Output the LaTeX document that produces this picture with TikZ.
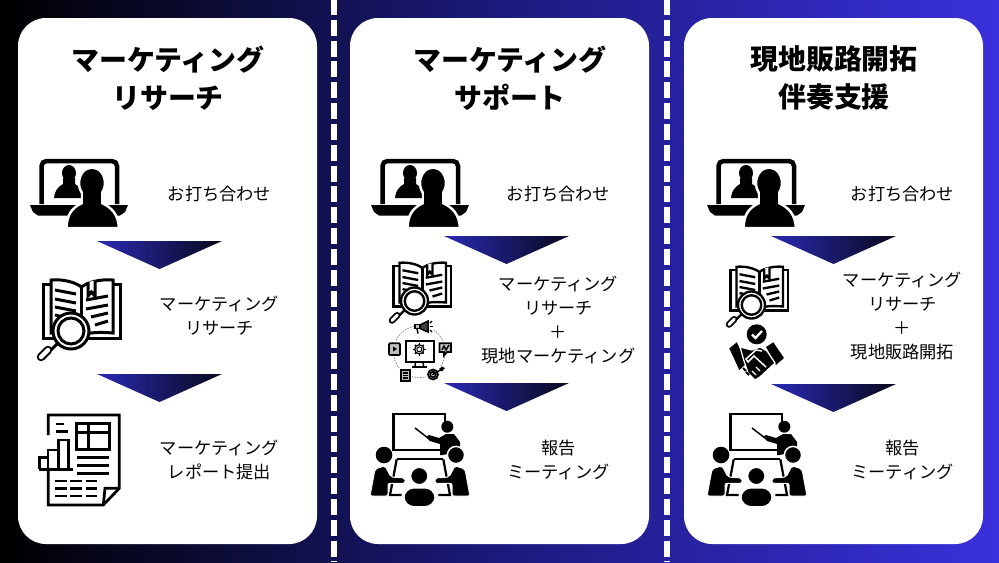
\documentclass[tikz,border=0pt]{standalone}
\usepackage{fontspec}
\setmainfont{Noto Sans CJK JP}
\definecolor{bgblue}{HTML}{3A30DC}
\definecolor{bgmid}{HTML}{1B1A7C}
\definecolor{arrowblue}{HTML}{2A2AB4}
\definecolor{arrowdark}{HTML}{08081C}

\tikzset{
  panel/.style={fill=white, rounded corners=5.6mm},
  divider/.style={white, line width=1.1mm, dash pattern=on 3.2mm off 0.967mm},
  arrowtri/.style={left color=arrowblue, right color=arrowdark},
  titletext/.style={align=center, inner sep=0pt, font=\fontsize{15.9}{21.6}\selectfont\bfseries},
  bodytext/.style={align=center, inner sep=0pt, font=\fontsize{9.8}{13.67}\selectfont},
  handleout/.style={line width=1.7mm, line cap=round},
  handlein/.style={white, line width=0.9mm, line cap=round},
  smallbook/.style={scale=0.75, line width=0.47mm, handleout/.style={line width=1.3mm, line cap=round}, handlein/.style={white, line width=0.6mm, line cap=round}},
  % laptop with two people
  laptop/.pic={
    \draw[black, line width=0.9mm, rounded corners=1mm] (41.5,204)--(41.5,161)--(117,161)--(117,204);
    \fill[black] (30,205)--(128,205)--(125,212)--(120,215.5)--(38,215.5)--(33,212)--cycle;
    \fill[black] (69,173) ellipse [x radius=7, y radius=8];
    \fill[black] (54,198) .. controls (55,190) and (58,187) .. (63,184)--(63,178)--(75,178)--(75,184) .. controls (80,187) and (83,190) .. (83,198)--cycle;
    \draw[white, fill=black, line width=0.5mm] (66.5,228) .. controls (67,214) and (72,208) .. (82,203)--(82,190)--(102,190)--(102,203) .. controls (112,208) and (118,214) .. (119,228)--cycle;
    \draw[white, fill=black, line width=0.5mm] (92,183) ellipse [x radius=13, y radius=15.5];
    \fill[black] (83,192) rectangle (101,206);
    \fill[white] (60,228.5) rectangle (125,232);
  },
  % open book under a magnifier, origin at its top left
  book/.pic={
    \draw[black] (7,5)--(0,5)--(0,59.5)--(77,59.5)--(77,5)--(70,5);
    \draw[black, fill=white] (8,54)--(8,1) .. controls (20,0) and (32,3) .. (38.5,8) .. controls (45,3) and (57,0) .. (70,1)--(70,54) .. controls (57,53) and (45,53) .. (38.5,57) .. controls (32,53) and (20,53) .. (8,54)--cycle;
    \draw[black] (38.5,8)--(38.5,50);
    \foreach \ly in {11,20,28} {\draw[black] (12,\ly)--(33,\ly+4);}
    \draw[black] (12,36)--(20,38);
    \foreach \ly/\lx in {21/43,30/43,38/48,46/52} {\draw[black] (\lx,\ly)--(65,\ly-4);}
    \draw[black, fill=white] (45,3)--(45,17)--(48.5,13)--(52,17)--(52,1.5);
    \draw[black] (16,63)--(8,71);
    \draw[black, handleout] (5,71)--(-2,78);
    \draw[handlein] (5,71)--(-2,78);
    \draw[black, fill=white] (28,52) circle [radius=18];
    \draw[black] (28,52) circle [radius=13];
  },
  % paper with table and bars
  report/.pic={
    \draw[black, line width=0.55mm] (48.3,435)--(48.3,415)--(119.3,415)--(119.3,488.3)--(103.3,505)--(48.3,505)--(48.3,470);
    \draw[black, line width=0.55mm] (119.3,488.3)--(105,488.3)--(103.3,505);
    \draw[black, line width=0.55mm] (76.7,423.3) rectangle (109.3,449.3);
    \draw[black, line width=0.55mm] (76.7,432.7)--(109.3,432.7);
    \draw[black, line width=0.55mm] (88.3,423.3)--(88.3,449.3);
    \draw[black, line width=0.55mm] (56,424)--(64,424);
    \draw[black, line width=0.55mm] (56,431.7)--(68.3,431.7);
    \draw[black, line width=0.55mm] (39.3,469.3)--(39.3,457.3)--(48,457.3)--(48,469.3);
    \draw[black, line width=0.55mm] (48,469.3)--(48,450)--(58.5,450)--(58.5,469.3);
    \draw[black, line width=0.55mm] (58.5,469.3)--(58.5,440)--(68.3,440)--(68.3,469.3);
    \draw[black, line width=0.55mm] (39.3,469.3)--(73.3,469.3);
    \foreach \ly in {457.7,465.7,473.3} {\draw[black, line width=0.55mm] (76.7,\ly)--(109.3,\ly);}
    \foreach \ly in {481,488.3,496} {
      \draw[black, line width=0.55mm] (55,\ly)--(66.7,\ly);
      \draw[black, line width=0.55mm] (70,\ly)--(81.7,\ly);
      \draw[black, line width=0.55mm] (85.7,\ly)--(96.7,\ly);
    }
  },
  % people round a table, origin at top left
  meeting/.pic={
    \draw[black, line width=0.55mm] (85,25)--(85,14)--(33.3,14)--(33.3,50)--(80,50);
    \draw[black, line width=0.3mm] (55,28)--(68,38);
    \fill[black] (87.3,26.7) circle [radius=6];
    \fill[black] (66,37)--(69,35)--(79,38)--(86,34)--(94,34)--(100,42)--(100,52)--(82,55)--(80,55)--(80,44)--(70,41)--cycle;
    \draw[black, line width=0.45mm] (36.7,59.3)--(83.3,59.3);
    \draw[black, line width=0.45mm] (41.7,95)--(30,95)--(36.7,59.3);
    \draw[black, line width=0.45mm] (78.3,95)--(90,95)--(83.3,59.3);
    \fill[black] (24,55) circle [radius=8.3];
    \draw[white, fill=black, line width=0.2mm, rounded corners=0.4mm] (10,96)--(15,69)--(25,65.7)--(31,77)--(45,78)--(45,83.3)--(28,83.3)--(28,96)--cycle;
    \draw[white, fill=black, line width=0.3mm] (96,55) circle [radius=8.6];
    \draw[white, fill=black, line width=0.2mm, rounded corners=0.4mm] (110,96)--(105,69)--(95,65.7)--(89,77)--(75,78)--(75,83.3)--(92,83.3)--(92,96)--cycle;
    \draw[white, fill=black, line width=0.2mm] (59.3,76) circle [radius=8.5];
    \draw[white, fill=black, line width=0.2mm, rounded corners=2mm] (44,106.5) rectangle (75,88);
  },
  % monitor with a ring of small signs
  promo/.pic={
    \draw[gray, line width=0.15mm, dash pattern=on 0.3mm off 0.25mm] (99.3,101.7) circle [radius=26];
    \fill[white] (94,69) rectangle (114,85);
    \fill[white] (67,91) rectangle (82,107);
    \fill[white] (118,91) rectangle (133,107);
    \fill[white] (79,118) rectangle (92,132);
    \fill[white] (106,117) rectangle (125,132);
    \draw[black, line width=0.35mm] (85.7,90.7) rectangle (114.3,111.7);
    \draw[black, line width=0.3mm] (95.5,111.7)--(95,116.7);
    \draw[black, line width=0.3mm] (103,111.7)--(103.5,116.7);
    \draw[black, line width=0.35mm] (92,116.9)--(107,116.9);
    \draw[black, line width=0.2mm] (99.3,99.3) circle [radius=2.5];
    \draw[black, line width=0.25mm] (99.3,99.3) circle [radius=4.6];
    \foreach \ang in {0,45,...,315} {\draw[black, line width=0.3mm] (99.3,99.3)++(\ang:4.6)--++(\ang:1.6);}
    \draw[black, fill=lightgray, line width=0.3mm] (95,74.5) rectangle (100,78.5);
    \draw[black, line width=0.3mm] (97,78.5)--(98,83.5);
    \draw[black, fill=darkgray, line width=0.3mm] (100,75)--(108,71)--(108,82)--(100,78.5)--cycle;
    \draw[black, line width=0.25mm] (110,73)--(112,71);
    \draw[black, line width=0.25mm] (110,76.5)--(113,76.5);
    \draw[black, line width=0.25mm] (110,80)--(112,82);
    \draw[black, fill=lightgray, line width=0.35mm, rounded corners=0.2mm] (69,93.3) rectangle (80,105);
    \fill[black] (73,96.5)--(73,101.5)--(77,99)--cycle;
    \draw[black, fill=lightgray, line width=0.35mm] (119.5,93.3)--(131,93.3)--(131,102)--(127,102)--(124,105.5)--(124,102)--(119.5,102)--cycle;
    \draw[black, line width=0.3mm] (122,100)--(124,96)--(126,100)--(129,95);
    \draw[black, fill=lightgray, line width=0.35mm] (81,120) rectangle (90,130.7);
    \foreach \ly in {123,125.5,128} {\draw[black, line width=0.25mm] (83,\ly)--(88,\ly);}
    \draw[black, line width=0.35mm] (113,124.5) circle [radius=5];
    \draw[black, line width=0.35mm] (113,124.5) circle [radius=2.8];
    \fill[black] (113,124.5) circle [radius=1.1];
    \draw[black, line width=0.3mm] (113,124.5)--(122,119);
    \fill[black] (119,119)--(122,116.5)--(125,118)--(122,121.5)--cycle;
  },
  % check mark over two hands
  handshake/.pic={
    \fill[black] (56.7,79.3) circle [radius=10];
    \draw[white, line width=0.45mm] (52,79.5)--(55.5,83)--(62,76);
    \fill[black] (29.3,93.3)--(36.7,87.3)--(47,108)--(39.3,115)--cycle;
    \fill[black] (73.3,87.3)--(84,103)--(76,110)--(66,92)--cycle;
    \draw[white, fill=black, line width=0.25mm] (40,92)--(52,95)--(60,92)--(67,96)--(75,108)--(60,122)--(55,125)--(48,118)--(44,106)--cycle;
    \draw[white, line width=0.3mm] (66,112)--(54,101)--(48,107)--(46,104)--(56,95)--(62,96);
    \draw[white, line width=0.25mm] (60,116)--(56,112);
    \draw[white, line width=0.25mm] (56,120)--(52,116);
    \draw[black, line width=0.4mm] (43,113)--(46,116);
    \draw[black, line width=0.4mm] (46,117)--(49,120);
  },
}

\begin{document}
\begin{tikzpicture}[x=0.02cm, y=-0.02cm]
\useasboundingbox (0,0) rectangle (999,562);

\shade[left color=black, right color=bgblue, middle color=bgmid] (0,0) rectangle (999,562);

\foreach \dx in {334,667} {
  \draw[divider] (\dx,-1)--(\dx,562);
}

\fill[panel] (18,18) rectangle (317,544);
\fill[panel] (350,18) rectangle (649,544);
\fill[panel] (684,18) rectangle (983,544);

\foreach \tx/\ty in {97/241, 97/374, 444/236, 444/383, 771/236, 771/384} {
  \shade[arrowtri] (\tx,\ty)--++(125,0)--++(-62.5,28)--cycle;
}

% first panel
\node[titletext] (titleA) at (168,78) {マーケティング\\リサーチ};
\node[bodytext] (meetA) at (219.5,194) {お打ち合わせ};
\node[bodytext] (researchA) at (219.5,316) {マーケティング\\リサーチ};
\node[bodytext] (reportA) at (219.5,460) {マーケティング\\レポート提出};
\pic at (0,0) {laptop};
\pic[line width=0.6mm] at (43,279) {book};
\pic at (0,0) {report};

% second panel
\node[titletext] (titleB) at (510,78) {マーケティング\\サポート};
\node[bodytext] (meetB) at (558.5,194) {お打ち合わせ};
\node[bodytext] (researchB) at (558.5,320) {マーケティング\\リサーチ\\＋\\現地マーケティング};
\node[bodytext] (reportB) at (558.5,460) {報告\\ミーティング};
\pic at (341,0) {laptop};
\pic[smallbook] at (393.5,262) {book};
\pic at (320,250) {promo};
\pic at (360,400) {meeting};

% third panel
\node[titletext] (titleC) at (834,78) {現地販路開拓\\伴奏支援};
\node[bodytext] (meetC) at (902.5,194) {お打ち合わせ};
\node[bodytext] (researchC) at (902.5,316) {マーケティング\\リサーチ\\＋\\現地販路開拓};
\node[bodytext] (reportC) at (902.5,460) {報告\\ミーティング};
\pic at (677,0) {laptop};
\pic[smallbook] at (730.5,266) {book};
\pic at (700,255) {handshake};
\pic at (697,400) {meeting};

\end{tikzpicture}
\end{document}
